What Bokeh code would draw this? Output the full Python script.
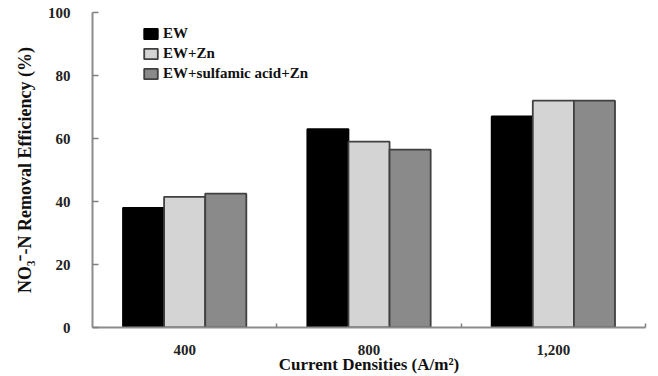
from bokeh.plotting import figure
from bokeh.models import ColumnDataSource, FixedTicker, Range1d, Legend, LegendItem
from bokeh.embed import file_html
from bokeh.resources import INLINE

# Current densities (A/m²) and NO3^- -N removal efficiency (%) per treatment
categories = ["400", "800", "1,200"]
ew = [38, 63, 67]
ew_zn = [41.5, 59, 72]
ew_sulfamic_zn = [42.5, 56.5, 72]
series_names = ["EW", "EW+Zn", "EW+sulfamic acid+Zn"]
y_ticks = [0, 20, 40, 60, 80, 100]

FONT = "Liberation Serif"
BAR_W = 0.223
fills = ["#000000", "#d4d4d4", "#8a8a8a"]
outlines = ["#000000", "#404040", "#404040"]

centers = [i + 0.5 for i in range(len(categories))]

p = figure(width=658, height=376, output_backend="svg", toolbar_location=None,
           x_range=Range1d(0, len(categories)), y_range=Range1d(0, 100),
           min_border_left=92, min_border_right=13, min_border_top=12,
           min_border_bottom=49)
p.outline_line_color = None
p.grid.grid_line_color = None
p.background_fill_color = "white"
p.border_fill_color = "white"

renderers = []
for k, (vals, fc, lc) in enumerate(zip([ew, ew_zn, ew_sulfamic_zn], fills, outlines)):
    offset = (k - 1) * BAR_W
    src = ColumnDataSource(dict(x=[c + offset for c in centers], top=vals))
    r = p.vbar(x="x", top="top", bottom=0, width=BAR_W, source=src,
               fill_color=fc, line_color=lc, line_width=1.8)
    renderers.append(r)

# x axis: labels at category centres, tick marks at category boundaries
xa = p.xaxis[0]
xa.ticker = FixedTicker(ticks=centers, minor_ticks=list(range(1, len(categories) + 1)))
xa.major_label_overrides = {c: lab for c, lab in zip(centers, categories)}
xa.major_tick_in = 0
xa.major_tick_out = 0
xa.minor_tick_in = 4
xa.minor_tick_out = 0
xa.minor_tick_line_color = "#808080"
xa.minor_tick_line_width = 1.5
xa.axis_line_color = "#8c8c8c"
xa.axis_line_width = 2
xa.major_label_standoff = 17
xa.major_label_text_font = FONT
xa.major_label_text_font_style = "bold"
xa.major_label_text_font_size = "15px"
xa.major_label_text_color = "#222222"
xa.axis_label = "Current Densities (A/m²)"
xa.axis_label_text_font = FONT
xa.axis_label_text_font_style = "bold"
xa.axis_label_text_font_size = "17px"
xa.axis_label_text_color = "#111111"
xa.axis_label_standoff = -3

ya = p.yaxis[0]
ya.ticker = FixedTicker(ticks=y_ticks)
ya.minor_tick_line_color = None
ya.major_tick_in = 6
ya.major_tick_out = 0
ya.major_tick_line_color = "#808080"
ya.major_tick_line_width = 1.5
ya.axis_line_color = "#8c8c8c"
ya.axis_line_width = 2
ya.major_label_standoff = 22
ya.major_label_text_font = FONT
ya.major_label_text_font_style = "bold"
ya.major_label_text_font_size = "15px"
ya.major_label_text_color = "#222222"
ya.axis_label = "NO₃⁻-N Removal Efficiency (%)"
ya.axis_label_text_font = FONT
ya.axis_label_text_font_style = "bold"
ya.axis_label_text_font_size = "18px"
ya.axis_label_text_color = "#111111"
ya.axis_label_standoff = 10

legend = Legend(items=[LegendItem(label=n, renderers=[r]) for n, r in zip(series_names, renderers)],
                location=(50, 245), orientation="vertical")
legend.background_fill_alpha = 0
legend.border_line_color = None
legend.margin = 0
legend.padding = 0
legend.spacing = 3
legend.glyph_width = 17
legend.glyph_height = 13
legend.label_height = 17
legend.label_standoff = 4
legend.label_text_font = FONT
legend.label_text_font_style = "bold"
legend.label_text_font_size = "15px"
legend.label_text_color = "#111111"
p.add_layout(legend, "center")

open("out.html", "w").write(file_html(p, INLINE))
